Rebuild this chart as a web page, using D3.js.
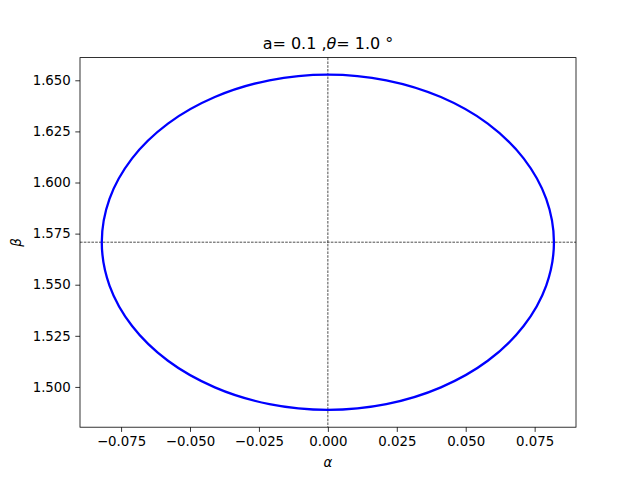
<!DOCTYPE html>
<html>
<head>
<meta charset="utf-8">
<script src="https://cdn.jsdelivr.net/npm/d3@7/dist/d3.min.js"></script>
<style>
  html, body { margin: 0; padding: 0; background: #fff; }
  text { font-family: "DejaVu Sans", sans-serif; fill: #000; }
</style>
</head>
<body>
<script>
  /* --- dados ----------------------------------------------------------- */
  var alphaVals = [0.0820, 0.0792, 0.0710, 0.0580, 0.0410, 0.0212, 0.0000,
                   -0.0212, -0.0410, -0.0580, -0.0710, -0.0792, -0.0820,
                   -0.0792, -0.0710, -0.0580, -0.0410, -0.0212, 0.0000,
                   0.0212, 0.0410, 0.0580, 0.0710, 0.0792];
  var betaVals  = [1.5708, 1.5920, 1.6118, 1.6288, 1.6418, 1.6500, 1.6528,
                   1.6500, 1.6418, 1.6288, 1.6118, 1.5920, 1.5708,
                   1.5496, 1.5298, 1.5128, 1.4998, 1.4916, 1.4888,
                   1.4916, 1.4998, 1.5128, 1.5298, 1.5496];
  var xTicks = [-0.075, -0.050, -0.025, 0.000, 0.025, 0.050, 0.075];
  var yTicks = [1.500, 1.525, 1.550, 1.575, 1.600, 1.625, 1.650];
  var alphaRef = 0.0;
  var betaRef  = 1.5708;

(function () {
  'use strict';

  /* --- layout ---------------------------------------------------------- */
  var W = 640, H = 480;
  var mLeft = 80, mRight = 576, mTop = 57.6, mBottom = 427.2;

  var x = d3.scaleLinear().domain([-0.0899, 0.0900]).range([mLeft, mRight]);
  var y = d3.scaleLinear().domain([1.4803, 1.6611]).range([mBottom, mTop]);

  var svg = d3.select('body').append('svg')
    .attr('width', W).attr('height', H);

  /* linhas de referência tracejadas */
  svg.append('line')
    .attr('x1', mLeft).attr('x2', mRight)
    .attr('y1', y(betaRef)).attr('y2', y(betaRef))
    .attr('stroke', '#000').attr('stroke-width', 0.7)
    .attr('stroke-dasharray', '2.6 1.2');
  svg.append('line')
    .attr('x1', x(alphaRef)).attr('x2', x(alphaRef))
    .attr('y1', mTop).attr('y2', mBottom)
    .attr('stroke', '#000').attr('stroke-width', 0.7)
    .attr('stroke-dasharray', '2.6 1.2');

  /* curva */
  var pts = alphaVals.map(function (a, i) { return [a, betaVals[i]]; });
  var line = d3.line()
    .x(function (d) { return x(d[0]); })
    .y(function (d) { return y(d[1]); })
    .curve(d3.curveCatmullRomClosed.alpha(0.5));
  svg.append('path').datum(pts)
    .attr('d', line)
    .attr('fill', 'none')
    .attr('stroke', '#0000ff')
    .attr('stroke-width', 2.3);

  /* eixos */
  var fmt = function (d) { return d3.format('.3f')(d).replace('-', '\u2212'); };
  var xAxis = svg.append('g')
    .attr('transform', 'translate(0,' + mBottom + ')')
    .call(d3.axisBottom(x).tickValues(xTicks).tickFormat(fmt)
      .tickSizeOuter(0).tickSize(4.7).tickPadding(4.5));
  var yAxis = svg.append('g')
    .attr('transform', 'translate(' + mLeft + ',0)')
    .call(d3.axisLeft(y).tickValues(yTicks).tickFormat(fmt)
      .tickSizeOuter(0).tickSize(4.7).tickPadding(4.5));
  [xAxis, yAxis].forEach(function (g) {
    g.select('.domain').remove();
    g.selectAll('line').attr('stroke', '#000').attr('stroke-width', 0.8);
    g.selectAll('text').attr('font-size', 13.33)
      .attr('font-family', 'DejaVu Sans, sans-serif').attr('fill', '#000');
  });

  /* moldura */
  svg.append('rect')
    .attr('x', mLeft).attr('y', mTop)
    .attr('width', mRight - mLeft).attr('height', mBottom - mTop)
    .attr('fill', 'none').attr('stroke', '#000').attr('stroke-width', 0.8);

  /* título */
  var title = svg.append('text')
    .attr('x', (mLeft + mRight) / 2).attr('y', 49)
    .attr('text-anchor', 'middle').attr('font-size', 16);
  title.append('tspan').text('a= 0.1 ,');
  title.append('tspan').attr('font-style', 'italic').text('\u03b8');
  title.append('tspan').text('= 1.0 \u00b0');

  /* rótulos dos eixos */
  svg.append('text')
    .attr('x', (mLeft + mRight) / 2).attr('y', 467)
    .attr('text-anchor', 'middle').attr('font-size', 13.33)
    .attr('font-style', 'italic').text('\u03b1');
  svg.append('text')
    .attr('transform', 'translate(21,' + ((mTop + mBottom) / 2) + ') rotate(-90)')
    .attr('text-anchor', 'middle').attr('font-size', 13.33)
    .attr('font-style', 'italic').text('\u03b2');
})();
</script>
</body>
</html>
